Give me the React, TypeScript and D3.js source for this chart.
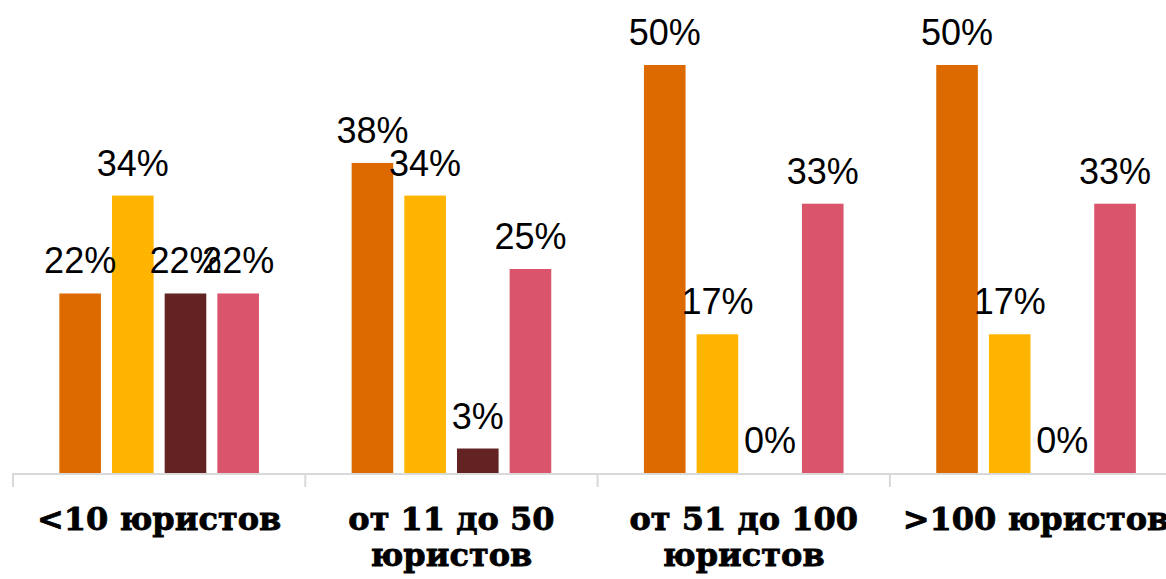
import * as d3 from "d3";

const categories = [
  ["<10 юристов"],
  ["от 11 до 50", "юристов"],
  ["от 51 до 100", "юристов"],
  [">100 юристов"],
];
const seriesNames = ["s1", "s2", "s3", "s4"];
const seriesColors = ["#DD6A00", "#FFB400", "#632323", "#DA546C"];
// values per series, one entry per category
const series1 = [0.22, 0.38, 0.5, 0.5];
const series2 = [0.34, 0.34, 0.17, 0.17];
const series3 = [0.22, 0.03, 0, 0];
const series4 = [0.22, 0.25, 0.33, 0.33];
const seriesValues = [series1, series2, series3, series4];

const width = 1166;
const height = 579;
const axisY = 473;

export default function App() {
  const keys = categories.map((c) => c.join(" "));
  const x0 = d3.scaleBand<string>().domain(keys).range([13, 13 + 4 * 292.3]).padding(0);
  const x1 = d3
    .scaleBand<string>()
    .domain(seriesNames)
    .range([0, x0.bandwidth()])
    .paddingInner(0.21)
    .paddingOuter(0.88);
  const y = d3.scaleLinear().domain([0, 0.5]).range([axisY, 65]);
  const fmt = d3.format(".0%");

  return (
    <svg
      width={width}
      height={height}
      style={{ position: "absolute", left: 0, top: 0, background: "#fff" }}
    >
      {keys.map((key, ci) => (
        <g key={key} transform={`translate(${x0(key)},0)`}>
          {seriesNames.map((s, si) => {
            const v = seriesValues[si][ci];
            const bx = x1(s) ?? 0;
            return (
              <g key={s}>
                {v > 0 ? (
                  <rect x={bx} y={y(v)} width={x1.bandwidth()} height={axisY - y(v)} fill={seriesColors[si]} />
                ) : null}
              </g>
            );
          })}
        </g>
      ))}

      <line x1={12} x2={width} y1={axisY + 1} y2={axisY + 1} stroke="#D9D9D9" strokeWidth={2} />
      {[...keys.map((k) => x0(k) ?? 0), 13 + 4 * 292.3].map((tx) => (
        <line key={tx} x1={tx} x2={tx} y1={axisY} y2={axisY + 14} stroke="#D9D9D9" strokeWidth={2} />
      ))}

      {keys.map((key, ci) => (
        <g key={`lbl-${key}`} transform={`translate(${x0(key)},0)`}>
          {seriesNames.map((s, si) => {
            const v = seriesValues[si][ci];
            return (
              <text
                key={s}
                x={(x1(s) ?? 0) + x1.bandwidth() / 2}
                y={y(v) - 20}
                textAnchor="middle"
                fontFamily="'Liberation Sans', Arial, sans-serif"
                fontSize={36}
                fill="#000"
              >
                {fmt(v)}
              </text>
            );
          })}
          {categories[ci].map((line, li) => (
            <text
              key={line}
              x={x0.bandwidth() / 2}
              y={530 + li * 36}
              textAnchor="middle"
              fontFamily="'DejaVu Serif', Georgia, serif"
              fontWeight="bold"
              fontSize={32}
              fill="#000"
              stroke="#000"
              strokeWidth={0.8}
            >
              {line}
            </text>
          ))}
        </g>
      ))}
    </svg>
  );
}
